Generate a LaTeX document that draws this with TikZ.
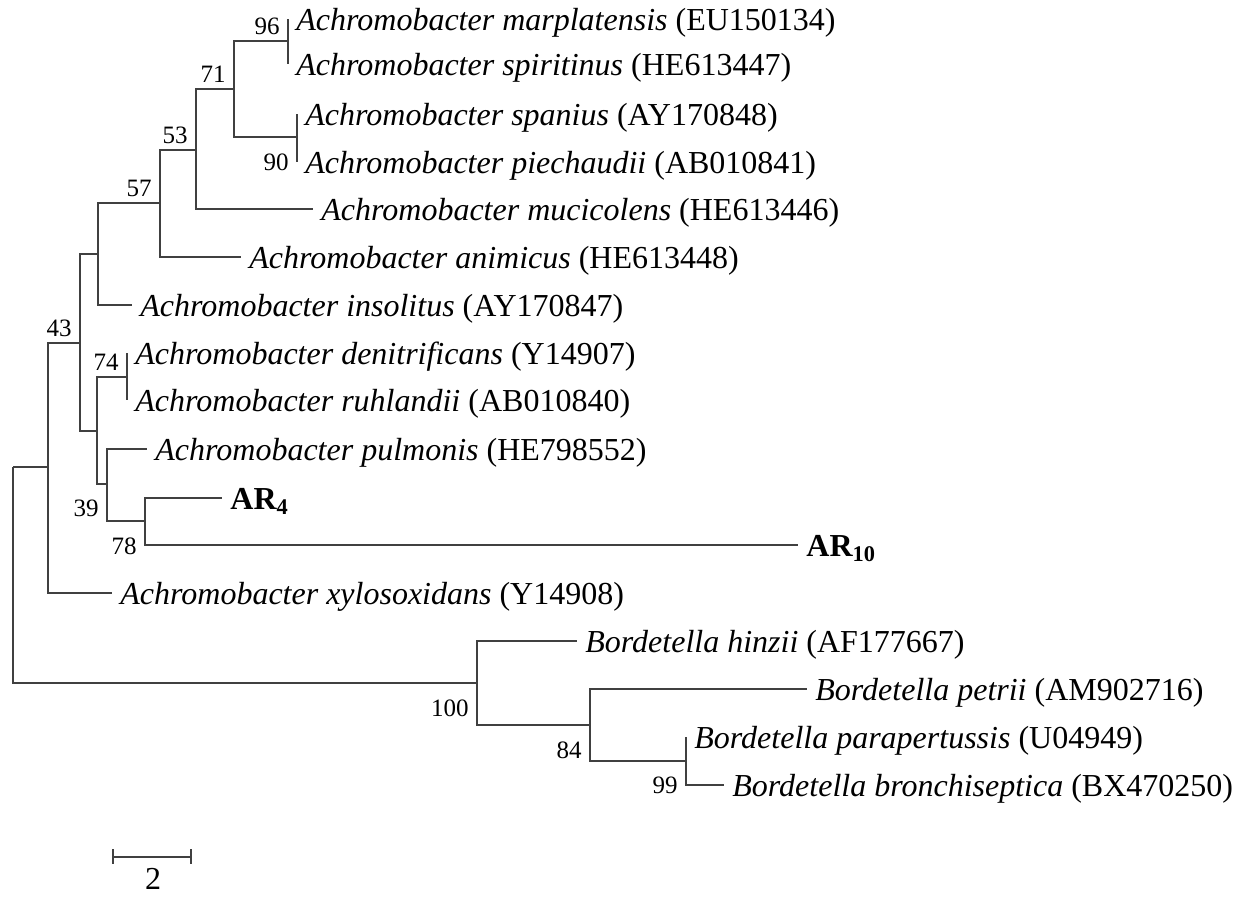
\documentclass[tikz,border=0pt]{standalone}
\usepackage{fontspec}
\setmainfont{Liberation Serif}
\begin{document}
\begin{tikzpicture}[x=0.5pt,y=-0.5pt,
  br/.style={draw=black!75, line width=0.6pt},
  leaf/.style={anchor=base west, inner xsep=4pt, inner ysep=0pt, yshift=-5.5pt, font=\fontsize{16}{19}\selectfont},
  bsup/.style={anchor=south east, inner sep=0pt, xshift=-4pt, yshift=3pt, font=\fontsize{12.5}{15}\selectfont},
  bsdn/.style={anchor=north east, inner sep=0pt, xshift=-4pt, yshift=-8pt, font=\fontsize{12.5}{15}\selectfont}]
\useasboundingbox (0,0) rectangle (1248,896);
% internal nodes
\coordinate (R) at (13,467);
\coordinate (A) at (48,467);
\coordinate (B) at (80,343);
\coordinate (C) at (98,254);
\coordinate (D) at (160,203);
\coordinate (E) at (196,150);
\coordinate (F) at (234,89);
\coordinate (G) at (288,41);
\coordinate (H) at (297,137);
\coordinate (I) at (97,431);
\coordinate (J) at (127,377);
\coordinate (K) at (107,484);
\coordinate (L) at (145,521);
\coordinate (M) at (477,683);
\coordinate (N) at (590,725);
\coordinate (O) at (686,761);
% leaf tips
\coordinate (t1) at (288,19);
\coordinate (t2) at (288,64);
\coordinate (t3) at (297,114);
\coordinate (t4) at (297,162);
\coordinate (t5) at (313,209);
\coordinate (t6) at (241,257);
\coordinate (t7) at (132,305);
\coordinate (t8) at (127,353);
\coordinate (t9) at (127,400);
\coordinate (t10) at (147,449);
\coordinate (t11) at (222,498);
\coordinate (t12) at (798,545);
\coordinate (t13) at (112,593);
\coordinate (t14) at (577,641);
\coordinate (t15) at (807,689);
\coordinate (t16) at (686,737);
\coordinate (t17) at (724,785);
% branches
\draw[br] (R) |- (A);  \draw[br] (R) |- (M);
\draw[br] (A) |- (B);  \draw[br] (A) |- (t13);
\draw[br] (B) |- (C);  \draw[br] (B) |- (I);
\draw[br] (C) |- (D);  \draw[br] (C) |- (t7);
\draw[br] (D) |- (E);  \draw[br] (D) |- (t6);
\draw[br] (E) |- (F);  \draw[br] (E) |- (t5);
\draw[br] (F) |- (G);  \draw[br] (F) |- (H);
\draw[br] (G) |- (t1); \draw[br] (G) |- (t2);
\draw[br] (H) |- (t3); \draw[br] (H) |- (t4);
\draw[br] (I) |- (J);  \draw[br] (I) |- (K);
\draw[br] (J) |- (t8); \draw[br] (J) |- (t9);
\draw[br] (K) |- (t10); \draw[br] (K) |- (L);
\draw[br] (L) |- (t11); \draw[br] (L) |- (t12);
\draw[br] (M) |- (t14); \draw[br] (M) |- (N);
\draw[br] (N) |- (t15); \draw[br] (N) |- (O);
\draw[br] (O) |- (t16); \draw[br] (O) |- (t17);
% leaf labels
\node[leaf] (l1) at (t1) {\textit{Achromobacter marplatensis} (EU150134)};
\node[leaf] (l2) at (t2) {\textit{Achromobacter spiritinus} (HE613447)};
\node[leaf] (l3) at (t3) {\textit{Achromobacter spanius} (AY170848)};
\node[leaf] (l4) at (t4) {\textit{Achromobacter piechaudii} (AB010841)};
\node[leaf] (l5) at (t5) {\textit{Achromobacter mucicolens} (HE613446)};
\node[leaf] (l6) at (t6) {\textit{Achromobacter animicus} (HE613448)};
\node[leaf] (l7) at (t7) {\textit{Achromobacter insolitus} (AY170847)};
\node[leaf] (l8) at (t8) {\textit{Achromobacter denitrificans} (Y14907)};
\node[leaf] (l9) at (t9) {\textit{Achromobacter ruhlandii} (AB010840)};
\node[leaf] (l10) at (t10) {\textit{Achromobacter pulmonis} (HE798552)};
\node[leaf] (l11) at (t11) {\textbf{AR\textsubscript{4}}};
\node[leaf] (l12) at (t12) {\textbf{AR\textsubscript{10}}};
\node[leaf] (l13) at (t13) {\textit{Achromobacter xylosoxidans} (Y14908)};
\node[leaf] (l14) at (t14) {\textit{Bordetella hinzii} (AF177667)};
\node[leaf] (l15) at (t15) {\textit{Bordetella petrii} (AM902716)};
\node[leaf] (l16) at (t16) {\textit{Bordetella parapertussis} (U04949)};
\node[leaf] (l17) at (t17) {\textit{Bordetella bronchiseptica} (BX470250)};
% bootstrap values
\node[bsup] (b96) at (G) {96};
\node[bsup] (b71) at (F) {71};
\node[bsup] (b53) at (E) {53};
\node[bsup] (b57) at (D) {57};
\node[bsup] (b43) at (B) {43};
\node[bsup] (b74) at (J) {74};
\node[bsdn] (b90) at (H) {90};
\node[bsdn] (b39) at (K) {39};
\node[bsdn] (b78) at (L) {78};
\node[bsdn] (b100) at (M) {100};
\node[bsdn] (b84) at (N) {84};
\node[bsdn] (b99) at (O) {99};
% scale bar
\coordinate (s1) at (113,857);
\coordinate (s2) at (191,857);
\draw[br] (s1) -- (s2);
\draw[br] (113,849) -- (113,864);
\draw[br] (191,849) -- (191,864);
\node[font=\fontsize{16}{19}\selectfont, anchor=base, inner sep=0pt] (sl) at (153,889) {2};
\end{tikzpicture}
\end{document}
